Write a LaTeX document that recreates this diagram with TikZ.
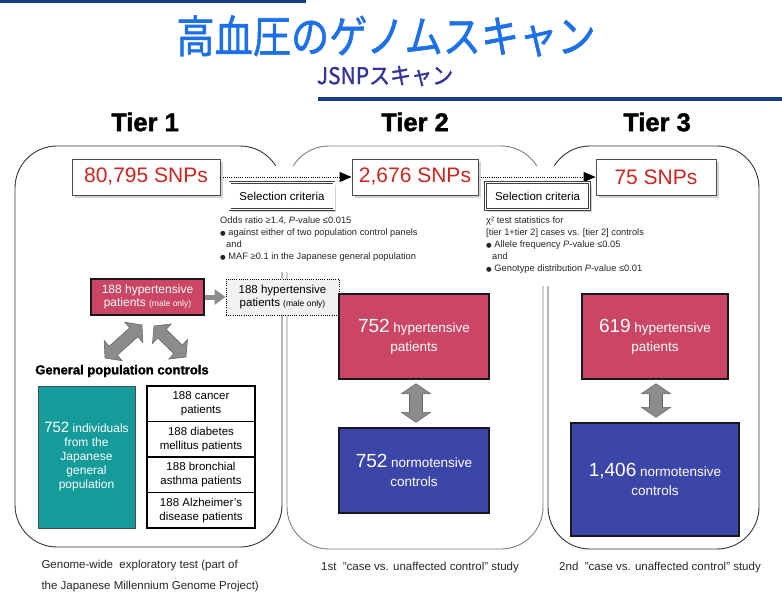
\documentclass[tikz,border=0pt]{standalone}
\usepackage{fontspec}
\usepackage{graphicx}
\setmainfont{Liberation Sans}
\newfontfamily\jpfont{Noto Sans CJK JP}[FakeBold=1.3]
\newfontfamily\heavyfont{Liberation Sans}[FakeBold=1.6]
\newfontfamily\dvfont{DejaVu Sans}
\usetikzlibrary{arrows.meta,shadows,calc}
\definecolor{titleblue}{RGB}{30,112,232}
\definecolor{subblue}{RGB}{52,52,150}
\definecolor{lineblue}{RGB}{22,58,140}
\definecolor{snpred}{RGB}{204,38,30}
\definecolor{boxred}{RGB}{203,70,100}
\definecolor{boxblue}{RGB}{60,70,168}
\definecolor{boxteal}{RGB}{22,155,155}
\definecolor{arrowgray}{RGB}{140,140,140}
\definecolor{panelgray}{RGB}{125,125,125}
\definecolor{dotfill}{RGB}{242,242,242}
\newcommand\bul{{\dvfont\fontsize{6.5}{6.5}\selectfont ●}}
\newcommand{\dblarrow}[5]{%
 \coordinate (da-a) at (#1);
 \coordinate (da-b) at (#2);
 \coordinate (da-h1) at ($(da-a)!#5!(da-b)$);
 \coordinate (da-h2) at ($(da-b)!#5!(da-a)$);
 \filldraw[blockarrow] (da-a) -- ($(da-h1)!#4!90:(da-a)$) -- ($(da-h1)!#3!90:(da-a)$)
   -- ($(da-h2)!#3!-90:(da-b)$) -- ($(da-h2)!#4!-90:(da-b)$) -- (da-b)
   -- ($(da-h2)!#4!90:(da-b)$) -- ($(da-h2)!#3!90:(da-b)$)
   -- ($(da-h1)!#3!-90:(da-a)$) -- ($(da-h1)!#4!-90:(da-a)$) -- cycle;}
\tikzset{
 panel/.style={draw=black!80, line width=0.9pt, rounded corners=42pt},
 snpbox/.style={draw=black!70, fill=white, line width=0.8pt, text=snpred,
   font=\fontsize{21}{21}\selectfont, inner sep=0pt,
   drop shadow={shadow xshift=2.5pt, shadow yshift=-2.5pt, opacity=0.35}},
 critbox/.style={draw=black!75, double=white, double distance=1.3pt, fill=white,
   line width=0.7pt, font=\fontsize{11.5}{11.5}\selectfont, inner sep=0pt,
   minimum width=104pt, minimum height=27pt,
   drop shadow={shadow xshift=2pt, shadow yshift=-2pt, opacity=0.35}},
 crittext/.style={font=\fontsize{9.3}{11.8}\selectfont, align=left, inner sep=1pt, text=black!85},
 colbox/.style={draw=black!90, line width=1.4pt, text=white, align=center, inner sep=0pt},
 stackbox/.style={draw=black, line width=1.2pt, fill=white, align=center, inner sep=0pt,
   minimum width=108pt, minimum height=35.5pt, font=\fontsize{11.5}{14}\selectfont},
 tierlabel/.style={font=\heavyfont\bfseries\fontsize{25.5}{25.5}\selectfont},
 caption/.style={font=\fontsize{11.5}{21}\selectfont, text=black!85},
 dotarrow/.style={black, line width=0.8pt, dash pattern=on 0.8pt off 1.4pt,
   -{Triangle[length=12pt,width=10pt,fill=black]}},
 blockarrow/.style={fill=arrowgray, draw=black!60, line width=0.6pt, line join=miter},
}
\begin{document}
\begin{tikzpicture}[x=1pt,y=-1pt]
\useasboundingbox (0,0) rectangle (782,594);
% header
\draw[lineblue, line width=3pt] (0,1.5) -- (306,1.5);
\draw[lineblue, line width=4pt] (318,99) -- (782,99);
\node[text=titleblue, inner sep=0pt] (title) at (386,36)
  {\jpfont\fontsize{39}{39}\selectfont\scalebox{0.98}[1.14]{高血圧のゲノムスキャン}};
\node[text=subblue, inner sep=0pt] (subtitle) at (385,76)
  {\jpfont\fontsize{21}{21}\selectfont\scalebox{1}[1.1]{JSNPスキャン}};
% tier labels
\node[tierlabel] (tier1) at (145,122) {Tier 1};
\node[tierlabel] (tier2) at (415,122) {Tier 2};
\node[tierlabel] (tier3) at (657,122) {Tier 3};
% panels
\draw[panel] (15,146) rectangle (282,547);
\draw[panel, draw=panelgray] (287,146) rectangle (543,549);
\draw[panel] (548,146) rectangle (759,549);
\fill[white] (266,166) rectangle (303,272);
\fill[white] (526,166) rectangle (563,286);
% SNP boxes
\node[snpbox, minimum width=148pt, minimum height=36pt] (snp1) at (146,177) {80,795 SNPs};
\node[snpbox, minimum width=126pt, minimum height=36pt] (snp2) at (415,177) {2,676 SNPs};
\node[snpbox, minimum width=120pt, minimum height=36pt] (snp3) at (656,177) {75 SNPs};
\draw[dotarrow] (snp1.east) -- (snp2.west);
\draw[dotarrow] (snp2.east) -- (snp3.west);
% selection criteria
\node[critbox] (crit1) at (282,196) {Selection criteria};
\node[critbox] (crit2) at (537.5,196) {Selection criteria};
\node[crittext, anchor=north west] (ct1) at (219,216)
  {Odds ratio ≥1.4, \textit{P}-value ≤0.015\\
   \bul\ against either of two population control panels\\
   \hspace*{6pt}and\\
   \bul\ MAF ≥0.1 in the Japanese general population};
\node[crittext, anchor=north west] (ct2) at (485,216)
  {χ² test statistics for\\
   {[}tier 1+tier 2{]} cases vs. {[}tier 2{]} controls\\
   \bul\ Allele frequency \textit{P}-value ≤0.05\\
   \hspace*{6pt}and\\
   \bul\ Genotype distribution \textit{P}-value ≤0.01};
% tier 1 contents
\node[colbox, fill=boxred, minimum width=113pt, minimum height=36pt,
  font=\fontsize{12}{13}\selectfont] (red1) at (147.5,297)
  {188 hypertensive\\patients {\fontsize{8.5}{13}\selectfont(male only)}};
\node[draw=black, line width=0.9pt, dash pattern=on 0.8pt off 1.4pt, fill=dotfill,
  minimum width=113pt, minimum height=36pt, align=center, inner sep=0pt,
  font=\fontsize{11.5}{12.5}\selectfont] (dot) at (282.5,297)
  {188 hypertensive\\patients {\fontsize{8.5}{12.5}\selectfont(male only)}};
\draw[line width=5pt, arrowgray, -{Triangle[length=11pt,width=15pt]}] (red1.east) -- (dot.west);
\node[font=\heavyfont\bfseries\fontsize{13}{13}\selectfont] (gpc) at (122,371) {General population controls};
\coordinate (dl1) at (105,358);
\coordinate (dl2) at (142,325);
\coordinate (dr1) at (154,326);
\coordinate (dr2) at (186,357);
\dblarrow{dl1}{dl2}{6pt}{13.5pt}{11pt}
\dblarrow{dr1}{dr2}{6pt}{13.5pt}{11pt}
\node[colbox, fill=boxteal, line width=1pt, draw=black!70, minimum width=97pt, minimum height=142pt,
  font=\fontsize{12}{14}\selectfont] (teal) at (86.5,457)
  {{\fontsize{15}{14}\selectfont 752} individuals\\from the\\Japanese\\general\\population};
\node[stackbox] (s1) at (201,403.75) {188 cancer\\patients};
\node[stackbox] (s2) at (201,439.25) {188 diabetes\\mellitus patients};
\node[stackbox] (s3) at (201,474.75) {188 bronchial\\asthma patients};
\node[stackbox] (s4) at (201,510.25) {188 Alzheimer's\\disease patients};
\node[caption, anchor=west, align=left] (cap1) at (38,576.5)
  {Genome-wide\ \ exploratory test (part of\\the Japanese Millennium Genome Project)};
% tier 2 contents
\node[colbox, fill=boxred, minimum width=150pt, minimum height=85pt,
  font=\fontsize{13.5}{19}\selectfont] (red2) at (414,336.5)
  {{\fontsize{19}{19}\selectfont 752} hypertensive\\patients};
\node[colbox, fill=boxblue, minimum width=150pt, minimum height=85pt,
  font=\fontsize{13.5}{19}\selectfont] (blue2) at (414,470.5)
  {{\fontsize{19}{19}\selectfont 752} normotensive\\controls};
\coordinate (a2t) at ($(red2.south)+(2,4)$);
\coordinate (a2b) at ($(blue2.north)+(2,-5)$);
\dblarrow{a2t}{a2b}{6.5pt}{14.5pt}{10pt}
\node[caption] (cap2) at (420,568) {1st\ \ "case vs. unaffected control" study};
% tier 3 contents
\node[colbox, fill=boxred, minimum width=146pt, minimum height=85pt,
  font=\fontsize{13.5}{19}\selectfont] (red3) at (655,336.5)
  {{\fontsize{19}{19}\selectfont 619} hypertensive\\patients};
\node[colbox, fill=boxblue, minimum width=168pt, minimum height=113pt,
  font=\fontsize{13.5}{19}\selectfont] (blue3) at (655,479.5)
  {{\fontsize{19}{19}\selectfont 1,406} normotensive\\controls};
\coordinate (a3t) at ($(red3.south)+(1,4)$);
\coordinate (a3b) at ($(blue3.north)+(1,-5)$);
\dblarrow{a3t}{a3b}{6.5pt}{14.5pt}{10pt}
\node[caption] (cap3) at (660,568) {2nd\ \ "case vs. unaffected control" study};
\end{tikzpicture}
\end{document}
